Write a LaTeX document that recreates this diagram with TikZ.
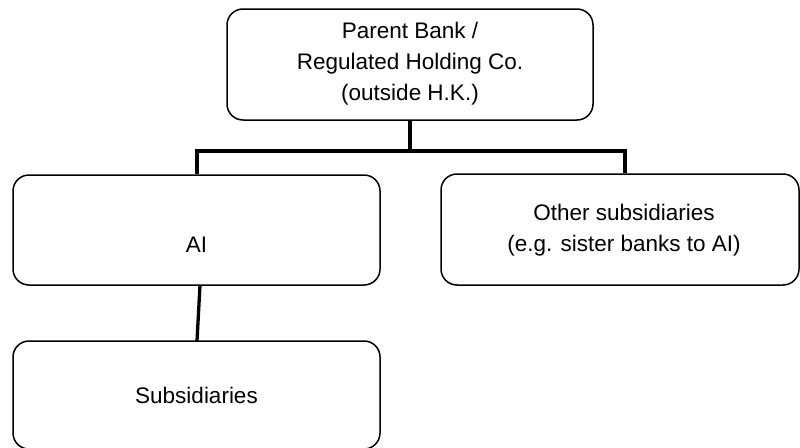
\documentclass[tikz,border=0pt]{standalone}
\usepackage{fontspec}
\setmainfont{Liberation Sans}
\begin{document}
\begin{tikzpicture}[x=1pt,y=-1pt,
  box/.style={draw=black, line width=1.5pt, rounded corners=16pt, rectangle, inner sep=0pt},
  txt/.style={font=\fontsize{22.5pt}{31pt}\selectfont, align=center, inner sep=0pt},
  link/.style={draw=black, line width=3.3pt}]
\useasboundingbox (0,0) rectangle (800,447);
% boxes
\node[box, minimum width=366pt, minimum height=111pt] (parent) at (410,64.5) {};
\node[box, minimum width=367pt, minimum height=110pt] (ai) at (196.5,230) {};
\node[box, minimum width=358pt, minimum height=111pt] (other) at (620,229.5) {};
\node[box, minimum width=367pt, minimum height=108pt] (subs) at (196.5,395) {};
% texts
\node[txt] (tparent) at (410,64) {Parent Bank /\\Regulated Holding Co.\\(outside H.K.)};
\node[txt] (tai) at (196.5,245) {AI};
\node[txt] (tother) at (624,230) {Other subsidiaries\\(e.g. sister banks to AI)};
\node[txt] (tsubs) at (196.5,395) {Subsidiaries};
% connectors
\coordinate (bus) at (410,151);
\coordinate (busl) at (197,151);
\coordinate (busr) at (625,151);
\draw[link] (parent.south) -- (bus);
\draw[link, line join=miter] (ai.north -| busl) -- (busl) -- (busr) -- (other.north -| busr);
\draw[link] (200,285) -- (197,341);
\end{tikzpicture}
\end{document}
